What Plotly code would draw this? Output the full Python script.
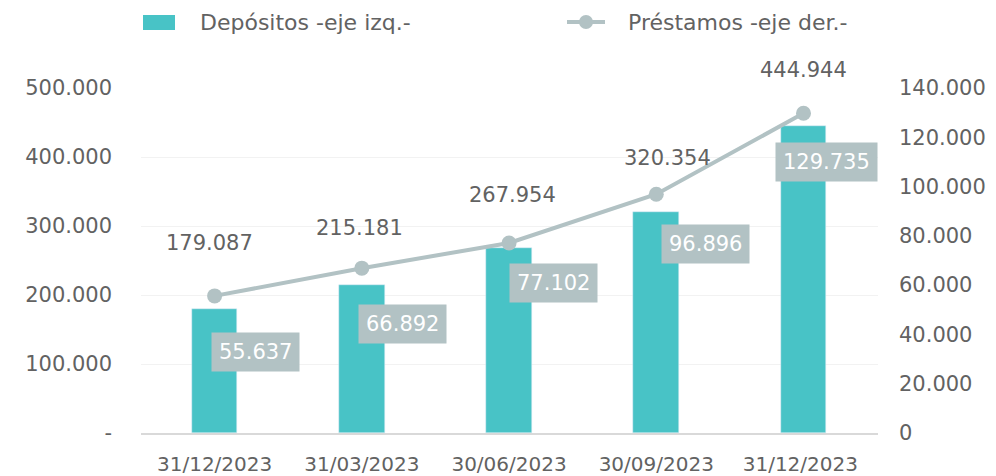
import plotly.graph_objects as go

# Series data
fechas = ["31/12/2023", "31/03/2023", "30/06/2023", "30/09/2023", "31/12/2023 "]
depositos = [179087, 215181, 267954, 320354, 444944]
prestamos = [55637, 66892, 77102, 96896, 129735]

left_ticks = [0, 100000, 200000, 300000, 400000, 500000]
right_ticks = [0, 20000, 40000, 60000, 80000, 100000, 120000, 140000]


def fmt(v):
    return f"{v:,}".replace(",", ".")


left_text = ["-"] + [fmt(v) for v in left_ticks[1:]]
right_text = [fmt(v) for v in right_ticks]

BAR = "#48c3c6"
LINE = "#b2c2c4"
TXT = "#626262"
FONT = "DejaVu Sans"

W, H = 996, 476
ML, MR, MT, MB = 141, 118, 88, 43
PW, PH = W - ML - MR, H - MT - MB

fig = go.Figure()
fig.add_trace(go.Bar(x=fechas, y=depositos, marker_color=BAR, width=0.31,
                     name="Depósitos -eje izq.-", showlegend=False))
fig.add_trace(go.Scatter(x=fechas, y=prestamos, yaxis="y2", mode="lines+markers",
                         line=dict(color=LINE, width=4),
                         marker=dict(color=LINE, size=15),
                         name="Préstamos -eje der.-", showlegend=False))

# value labels for deposits (offsets in px)
dep_shift = [(-5, 66), (-2, 57), (3, 53), (11, 54), (0, 56)]
for x, v, (dx, dy) in zip(fechas, depositos, dep_shift):
    fig.add_annotation(x=x, y=v, xref="x", yref="y", text=fmt(v), showarrow=False,
                       xshift=dx, yshift=dy, font=dict(family=FONT, size=21, color=TXT))

# boxed value labels for loans
pre_shift = [(41, -56), (41, -56), (44, -40), (49, -50), (23, -49)]
for x, v, (dx, dy) in zip(fechas, prestamos, pre_shift):
    fig.add_annotation(x=x, y=v, xref="x", yref="y2", text=fmt(v), showarrow=False,
                       xshift=dx, yshift=dy, bgcolor=LINE, borderpad=7,
                       font=dict(family=FONT, size=21, color="white"))


def px_x(p):
    return (p - ML) / PW


def px_y(p):
    return (H - MB - p) / PH


# legend drawn at the top
fig.add_shape(type="rect", xref="paper", yref="paper", x0=px_x(143), x1=px_x(175),
              y0=px_y(30), y1=px_y(15), fillcolor=BAR, line_width=0)
fig.add_annotation(xref="paper", yref="paper", x=px_x(198), y=px_y(22),
                   xanchor="left", yanchor="middle",
                   text="Depósitos -eje izq.-", showarrow=False,
                   font=dict(family=FONT, size=22, color=TXT))
fig.add_shape(type="line", xref="paper", yref="paper", x0=px_x(567), x1=px_x(605),
              y0=px_y(22), y1=px_y(22), line=dict(color=LINE, width=4))
fig.add_shape(type="circle", xref="paper", yref="paper", x0=px_x(579), x1=px_x(593),
              y0=px_y(29), y1=px_y(15), fillcolor=LINE, line_width=0)
fig.add_annotation(xref="paper", yref="paper", x=px_x(626), y=px_y(22),
                   xanchor="left", yanchor="middle",
                   text="Préstamos -eje der.-", showarrow=False,
                   font=dict(family=FONT, size=22, color=TXT))

fig.update_layout(
    width=W, height=H,
    margin=dict(l=ML, r=MR, t=MT, b=MB),
    plot_bgcolor="white", paper_bgcolor="white",
    font=dict(family=FONT, size=20, color=TXT),
    showlegend=False,
    bargap=0,
    xaxis=dict(showgrid=False, showline=True, linecolor="#d9d9d9", linewidth=2,
               ticks="", ticklabelstandoff=12, tickfont=dict(size=20, color=TXT),
               automargin=False),
    yaxis=dict(range=[0, 500000], tickvals=left_ticks, ticktext=left_text,
               showgrid=True, gridcolor="#f2f2f2", gridwidth=1, zeroline=False,
               ticks="", ticklabelstandoff=28, tickfont=dict(size=21, color=TXT),
               automargin=False),
    yaxis2=dict(range=[0, 140000], overlaying="y", side="right",
                tickvals=right_ticks, ticktext=right_text, showgrid=False,
                zeroline=False, ticks="", ticklabelstandoff=20,
                tickfont=dict(size=21, color=TXT), automargin=False),
)

fig.write_html("out.html")
